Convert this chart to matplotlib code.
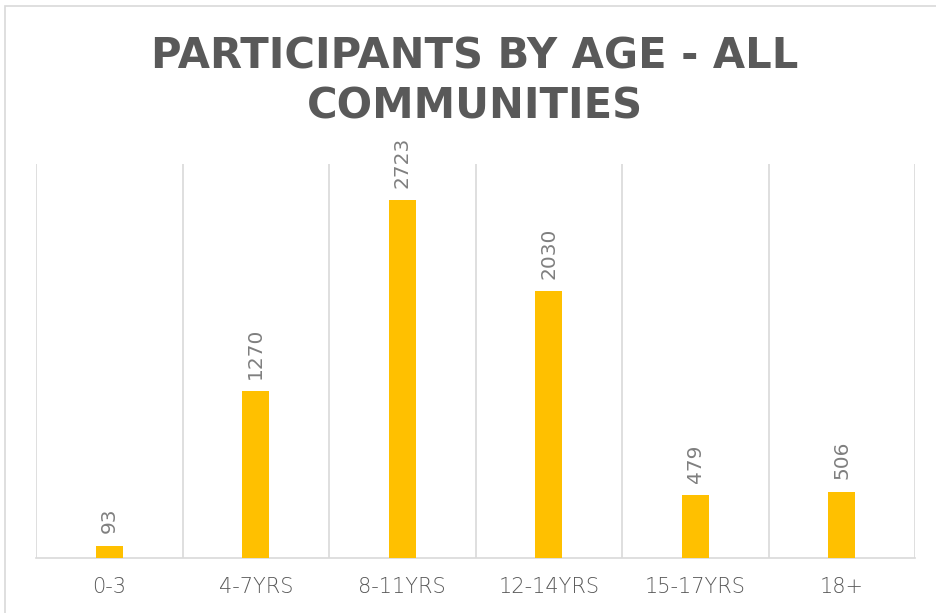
import numpy as np
import matplotlib.pyplot as plt
from matplotlib.patches import Rectangle

# Data
categories = ['0-3', '4-7YRS', '8-11YRS', '12-14YRS', '15-17YRS', '18+']
participants = [93, 1270, 2723, 2030, 479, 506]

bar_color = '#FFC000'
text_color = '#595959'
grid_color = '#D9D9D9'

fig = plt.figure(figsize=(9.36, 6.13), dpi=100)
ax = fig.add_axes([0.0385, 0.0897, 0.9391, 0.6433])

x = np.arange(len(categories))
bars = ax.bar(x, participants, width=0.185, color=bar_color, zorder=3)

ax.set_xlim(-0.5, len(categories) - 0.5)
ax.set_ylim(0, 3000)

# vertical gridlines between categories
ax.set_xticks(x)
ax.set_xticklabels(categories, fontsize=15, color=text_color, family='DejaVu Sans',
                   fontweight='light')
ax.set_xticks(np.arange(-0.5, len(categories)), minor=True)
ax.grid(which='minor', axis='x', color=grid_color, linewidth=1.2, zorder=0)
ax.tick_params(axis='x', which='both', length=0, pad=14)
ax.set_yticks([])
for side in ['top', 'right', 'left']:
    ax.spines[side].set_visible(False)
ax.spines['bottom'].set_color(grid_color)
ax.spines['bottom'].set_linewidth(1.2)

# data labels
for xi, v in zip(x, participants):
    ax.annotate(str(v), (xi, v), xytext=(0, 9), textcoords='offset points',
                rotation=90, ha='center', va='bottom', fontsize=14.5,
                color='#7F7F7F', family='DejaVu Sans')

# title
fig.text(0.507, 0.908, 'PARTICIPANTS BY AGE - ALL', ha='center', va='center',
         fontsize=30, fontweight='bold', color=text_color, family='DejaVu Sans')
fig.text(0.507, 0.826, 'COMMUNITIES', ha='center', va='center',
         fontsize=30, fontweight='bold', color=text_color, family='DejaVu Sans')

# chart frame
fig.patches.append(Rectangle((5 / 936, -0.05), 1.1, 1.04,
                             transform=fig.transFigure, fill=False,
                             edgecolor=grid_color, linewidth=1.2))

fig.savefig('out.png', dpi=100)
